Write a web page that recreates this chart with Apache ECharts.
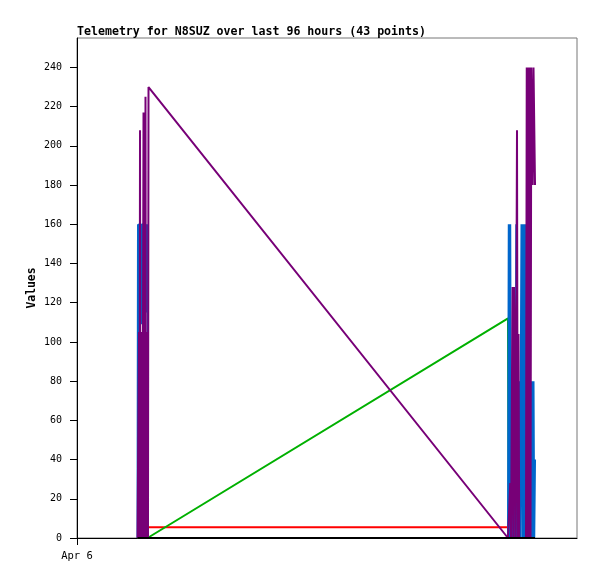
<!DOCTYPE html>
<html>
<head>
<meta charset="utf-8">
<script src="https://cdn.jsdelivr.net/npm/echarts@6/dist/echarts.min.js"></script>
<style>
  html, body { margin: 0; padding: 0; background: #fff; }
  #chart { width: 597px; height: 579px; }
</style>
</head>
<body>
<div id="chart"></div>
<script>
// hours since Apr 6 00:00 for each sample
var hours = [
  11.62, 11.71, 11.81, 11.90, 12.00, 12.10, 12.19, 12.29, 12.38, 12.48, 12.58, 12.67,
  12.77, 12.86, 12.96, 13.06, 13.15, 13.25, 13.34, 13.44, 13.54, 13.63, 13.73,
  82.75, 82.90, 83.04, 83.18, 83.33, 83.47, 83.62, 83.76, 83.90, 84.05, 84.19, 84.34,
  84.48, 84.62, 84.77, 84.91, 85.06, 85.20, 85.34, 85.49, 85.63, 85.78, 85.92, 86.06,
  86.21, 86.35, 86.50, 86.64, 86.78, 86.93, 87.07, 87.22, 87.36, 87.50, 87.65, 87.79,
  87.94
];
var blueVals = [
  0, 160, 0, 160, 160, 160, 160, 160, 160, 109, 160, 160,
  160, 160, 160, 160, 160, 160, 160, 115, 160, 0, 0,
  0, 160, 0, 160, 0, 80, 0, 40, 0, 80, 0, 160,
  0, 80, 0, 80, 0, 80, 160, 0, 160, 0, 160, 0,
  160, 0, 80, 0, 80, 0, 80, 0, 80, 0, 80, 0,
  40
];
var purpleVals = [
  0, 0, 0, 105, 0, 208, 0, 105, 0, 105, 0, 105,
  217, 0, 105, 0, 225, 0, 105, 0, 105, 0, 230,
  0, 0, 0, 28, 0, 0, 128, 0, 128, 104, 0, 104,
  208, 0, 104, 0, 0, 0, 0, 0, 0, 0, 0, 0,
  0, 240, 0, 240, 0, 240, 0, 240, 240, 180, 240, 240,
  180
];
var greenVals = [
  0, 0, 0, 0, 0, 0, 0, 0, 0, 0, 0, 0,
  0, 0, 0, 0, 0, 0, 0, 0, 0, 0, 0,
  112, 0, 0, 0, 0, 0, 0, 0, 0, 0, 0, 0,
  0, 0, 0, 0, 0, 0, 0, 0, 0, 0, 0, 0,
  0, 0, 0, 0, 0, 0, 0, 0, 0, 0, 0, 0,
  0
];
var redVals = [
  5.5, 5.5, 5.5, 5.5, 5.5, 5.5, 5.5, 5.5, 5.5, 5.5, 5.5, 5.5,
  5.5, 5.5, 5.5, 5.5, 5.5, 5.5, 5.5, 5.5, 5.5, 5.5, 5.5,
  5.5, 5.5, 5.5, 5.5, 5.5, 5.5, 5.5, 5.5, 0, 0, 0, 0,
  0, 0, 0, 0, 0, 0, 0, 0, 0, 0, 0, 0,
  0, 0, 0, 0, 0, 0, 0, 0, 0, 0, 0, 0,
  0
];
var blackVals = [
  0, 0, 0, 0, 0, 0, 0, 0, 0, 0, 0, 0,
  0, 0, 0, 0, 0, 0, 0, 0, 0, 0, 0,
  0, 0, 0, 0, 0, 0, 0, 0, 0, 0, 0, 0,
  0, 0, 0, 0, 0, 0, 0, 0, 0, 0, 0, 0,
  0, 0, 0, 0, 0, 0, 0, 0, 0, 0, 0, 0,
  0
];
var yTicks = [0, 20, 40, 60, 80, 100, 120, 140, 160, 180, 200, 220, 240];

function pairs(vals) {
  return hours.map(function (h, i) { return [h, vals[i]]; });
}

function lineSeries(name, vals, color) {
  return {
    name: name,
    type: 'line',
    data: pairs(vals),
    showSymbol: false,
    symbol: 'none',
    sampling: null,
    lineStyle: { color: color, width: 2 },
    itemStyle: { color: color },
    emphasis: { disabled: true }
  };
}

var mono = 'DejaVu Sans Mono';
var chart = echarts.init(document.getElementById('chart'));
chart.setOption({
  animation: false,
  title: {
    text: 'Telemetry for N8SUZ over last 96 hours (43 points)',
    left: 77,
    top: 26,
    padding: 0,
    textStyle: { fontFamily: mono, fontWeight: 'bold', fontSize: 11.6, color: '#000' }
  },
  grid: {
    left: 77, right: 20, top: 38, bottom: 41,
    show: true, borderColor: '#777', borderWidth: 1, backgroundColor: '#fff'
  },
  xAxis: {
    type: 'value',
    min: 0, max: 96,
    splitLine: { show: false },
    axisLine: { lineStyle: { color: '#000', width: 1 } },
    axisTick: { length: 7, customValues: [0], lineStyle: { color: '#000' } },
    axisLabel: {
      customValues: [0],
      margin: 13,
      fontFamily: mono, fontSize: 10.5, color: '#000',
      formatter: function (v) { return v === 0 ? 'Apr 6' : ''; }
    }
  },
  yAxis: {
    type: 'value',
    min: 0, max: 255,
    name: 'Values',
    nameLocation: 'middle',
    nameGap: 39,
    nameMoveOverlap: false,
    nameTextStyle: { fontFamily: mono, fontWeight: 'bold', fontSize: 11.4, color: '#000' },
    splitLine: { show: false },
    axisLine: { lineStyle: { color: '#000', width: 1 } },
    axisTick: { length: 7, customValues: yTicks, lineStyle: { color: '#000' } },
    axisLabel: {
      customValues: yTicks,
      margin: 15,
      fontFamily: mono, fontSize: 10, color: '#000'
    }
  },
  series: [
    lineSeries('red', redVals, '#ff0000'),
    lineSeries('green', greenVals, '#00b000'),
    lineSeries('blue', blueVals, '#0066cc'),
    lineSeries('purple', purpleVals, '#770077'),
    lineSeries('black', blackVals, '#000000')
  ]
});
</script>
</body>
</html>
